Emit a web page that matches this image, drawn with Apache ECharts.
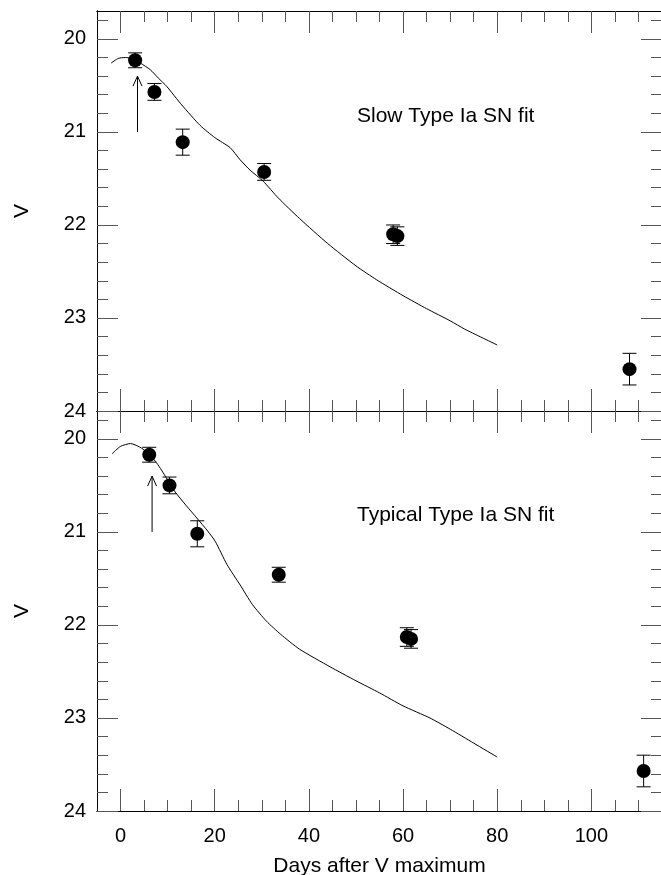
<!DOCTYPE html>
<html>
<head>
<meta charset="utf-8">
<script src="https://cdn.jsdelivr.net/npm/echarts@6/dist/echarts.min.js"></script>
<style>
  html, body { margin: 0; padding: 0; background: #fff; }
  #chart { width: 661px; height: 875px; }
</style>
</head>
<body>
<div id="chart"></div>
<script>
// axis ticks
const xMajor = [0, 20, 40, 60, 80, 100]
const xMinor = [5, 10, 15, 25, 30, 35, 45, 50, 55, 65, 70, 75, 85, 90, 95, 105, 110]
const yMajor = [20, 21, 22, 23, 24]
const yMinor = [19.8, 20.2, 20.4, 20.6, 20.8, 21.2, 21.4, 21.6, 21.8, 22.2, 22.4, 22.6, 22.8, 23.2, 23.4, 23.6, 23.8]

// model light curves [day, V]
const slowFit = [
  [-2, 20.26], [-0.5, 20.21], [1, 20.2], [2.5, 20.21], [4.2, 20.26], [6.3, 20.33],
  [8, 20.42], [9.8, 20.51], [13, 20.71], [16.9, 20.93], [20, 21.06], [23.3, 21.17],
  [25.4, 21.3], [27.5, 21.41], [30.3, 21.53], [33.5, 21.71], [38, 21.93], [44, 22.2],
  [50, 22.44], [54.4, 22.59], [60, 22.76], [65, 22.9], [70, 23.03], [73.1, 23.12], [80, 23.29]
]
const typicalFit = [
  [-1.8, 20.16], [0, 20.08], [2.1, 20.05], [4.5, 20.1], [7.4, 20.24], [9.5, 20.4],
  [11.6, 20.57], [14, 20.72], [16.2, 20.85], [18.5, 20.99], [20.1, 21.1], [22.6, 21.35],
  [25.4, 21.57], [28, 21.78], [31, 21.96], [34, 22.1], [38, 22.26], [44.5, 22.45],
  [50, 22.6], [55, 22.73], [60, 22.87], [65.7, 23.0], [70, 23.12], [75, 23.27], [80, 23.42]
]

// observations [day, V, error]
const slowObs = [
  [3.1, 20.23, 0.08], [7.2, 20.57, 0.09], [13.2, 21.11, 0.14], [30.5, 21.43, 0.09],
  [57.9, 22.1, 0.1], [58.8, 22.12, 0.1], [108.1, 23.55, 0.17]
]
const typicalObs = [
  [6.1, 20.17, 0.08], [10.4, 20.5, 0.09], [16.3, 21.02, 0.14], [33.6, 21.46, 0.08],
  [60.8, 22.13, 0.1], [61.7, 22.15, 0.1], [111.1, 23.57, 0.17]
]

// arrows [day, V from, V to]
const slowArrow = [[3.6, 21.0, 20.4]]
const typicalArrow = [[6.7, 21.0, 20.4]]

const panelLabels = ['Slow Type Ia SN fit', 'Typical Type Ia SN fit']

const FONT = '"Liberation Sans", Arial, sans-serif'
const TICK = '#555'

const grids = [
  { left: 97, top: 11, width: 565, height: 400, outerBoundsMode: 'none' },
  { left: 97, top: 411, width: 565, height: 400, outerBoundsMode: 'none' }
]

function xAx(grid, position, values, len, labels) {
  return {
    type: 'value', gridIndex: grid, position, min: -5, max: 115,
    axisLine: { show: true, onZero: false, lineStyle: { color: '#000', width: 1 } },
    axisTick: { show: true, inside: true, length: len, customValues: values, lineStyle: { color: TICK, width: 1 } },
    axisLabel: labels
      ? { show: true, customValues: values, margin: 15, fontSize: 20, color: '#000', fontFamily: FONT }
      : { show: false },
    splitLine: { show: false },
    name: labels ? 'Days after V maximum' : '',
    nameLocation: 'middle', nameGap: 45,
    nameTextStyle: { fontSize: 21, color: '#000', fontFamily: FONT }
  }
}

function yAx(grid, position, values, len, labels) {
  return {
    type: 'value', gridIndex: grid, position, min: 19.7, max: 24, inverse: true,
    axisLine: { show: true, onZero: false, lineStyle: { color: '#000', width: 1 } },
    axisTick: { show: true, inside: true, length: len, customValues: values, lineStyle: { color: TICK, width: 1 } },
    axisLabel: labels
      ? { show: true, customValues: values, margin: 11, fontSize: 20, color: '#000', fontFamily: FONT }
      : { show: false },
    splitLine: { show: false },
    name: labels ? 'V' : '',
    nameLocation: 'middle', nameGap: 64,
    nameTextStyle: { fontSize: 21, color: '#000', fontFamily: FONT }
  }
}

const xAxes = []
const yAxes = []
grids.forEach((g, i) => {
  xAxes.push(xAx(i, 'bottom', xMajor, 22, i === 1))
  xAxes.push(xAx(i, 'bottom', xMinor, 11, false))
  xAxes.push(xAx(i, 'top', xMajor, 22, false))
  xAxes.push(xAx(i, 'top', xMinor, 11, false))
  yAxes.push(yAx(i, 'left', yMajor, 21, true))
  yAxes.push(yAx(i, 'left', yMinor, 11, false))
  yAxes.push(yAx(i, 'right', yMajor, 21, false))
  yAxes.push(yAx(i, 'right', yMinor, 11, false))
})

const stroke = { stroke: '#000', lineWidth: 1 }

function renderErrorBar(params, api) {
  const x = api.value(0), v = api.value(1), e = api.value(2)
  const a = api.coord([x, v - e])
  const b = api.coord([x, v + e])
  const w = 7
  return {
    type: 'group',
    children: [
      { type: 'line', shape: { x1: a[0], y1: a[1], x2: b[0], y2: b[1] }, style: stroke },
      { type: 'line', shape: { x1: a[0] - w, y1: a[1], x2: a[0] + w, y2: a[1] }, style: stroke },
      { type: 'line', shape: { x1: b[0] - w, y1: b[1], x2: b[0] + w, y2: b[1] }, style: stroke }
    ]
  }
}

function renderArrow(params, api) {
  const x = api.value(0)
  const a = api.coord([x, api.value(1)])
  const b = api.coord([x, api.value(2)])
  return {
    type: 'group',
    children: [
      { type: 'line', shape: { x1: a[0], y1: a[1], x2: b[0], y2: b[1] }, style: stroke },
      { type: 'polyline', shape: { points: [[b[0] - 4.5, b[1] + 10], [b[0], b[1]], [b[0] + 4.5, b[1] + 10]] }, style: { stroke: '#000', lineWidth: 1, fill: null } }
    ]
  }
}

function panelSeries(i, fit, obs, arrow) {
  const xi = i * 4, yi = i * 4
  return [
    {
      type: 'line', xAxisIndex: xi, yAxisIndex: yi, data: fit, symbol: 'none',
      smooth: 0.2, lineStyle: { color: '#000', width: 1 }, z: 2
    },
    {
      type: 'custom', xAxisIndex: xi, yAxisIndex: yi, data: obs,
      encode: { x: 0, y: 1 }, renderItem: renderErrorBar, z: 3
    },
    {
      type: 'scatter', xAxisIndex: xi, yAxisIndex: yi, data: obs.map(d => [d[0], d[1]]),
      symbol: 'circle', symbolSize: 14, itemStyle: { color: '#000', opacity: 1 }, z: 4
    },
    {
      type: 'custom', xAxisIndex: xi, yAxisIndex: yi, data: arrow,
      encode: { x: 0, y: 1 }, renderItem: renderArrow, z: 3
    }
  ]
}

const chart = echarts.init(document.getElementById('chart'), null, { renderer: 'canvas' })
chart.setOption({
  animation: false,
  backgroundColor: '#fff',
  grid: grids,
  xAxis: xAxes,
  yAxis: yAxes,
  graphic: [
    { type: 'text', x: 357, y: 116, style: { text: panelLabels[0], font: '21px ' + FONT, fill: '#000', textVerticalAlign: 'middle' } },
    { type: 'text', x: 357, y: 515, style: { text: panelLabels[1], font: '21px ' + FONT, fill: '#000', textVerticalAlign: 'middle' } }
  ],
  series: [
    ...panelSeries(0, slowFit, slowObs, slowArrow),
    ...panelSeries(1, typicalFit, typicalObs, typicalArrow)
  ]
})
</script>
</body>
</html>
